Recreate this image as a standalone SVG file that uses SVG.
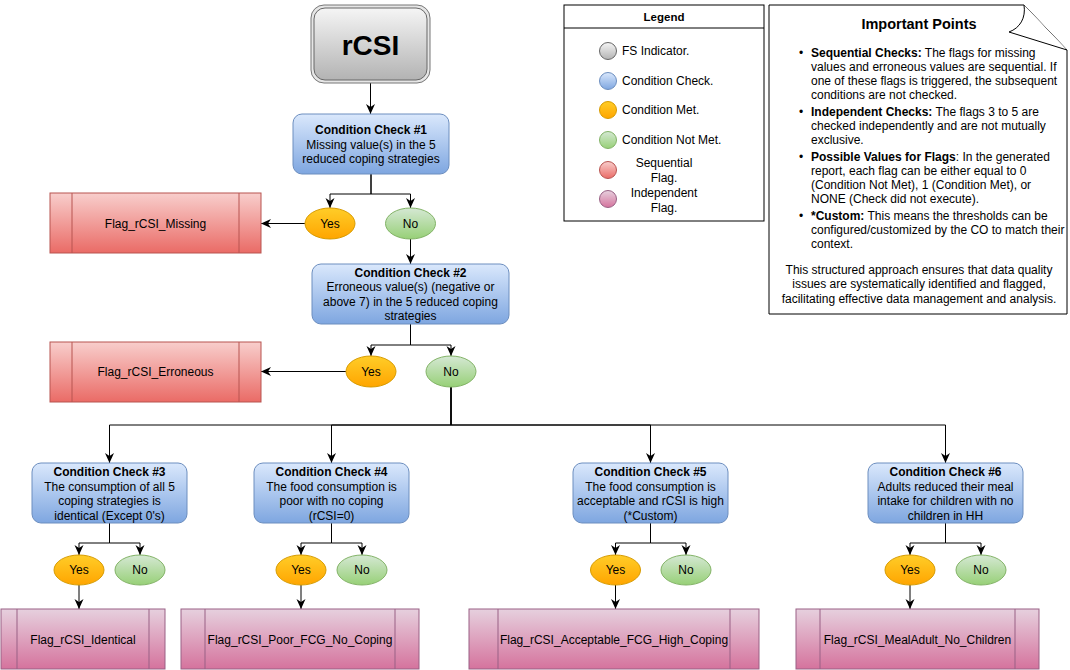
<svg xmlns="http://www.w3.org/2000/svg" width="1070" height="670" viewBox="0 0 1070 670">
<defs>
<linearGradient id="gGray" x1="0" y1="0" x2="0" y2="1"><stop offset="0" stop-color="#f5f5f5"/><stop offset="1" stop-color="#b3b3b3"/></linearGradient>
<linearGradient id="gBlue" x1="0" y1="0" x2="0" y2="1"><stop offset="0" stop-color="#dae8fc"/><stop offset="1" stop-color="#7ea6e0"/></linearGradient>
<linearGradient id="gYes" x1="0" y1="0" x2="0" y2="1"><stop offset="0" stop-color="#ffcd28"/><stop offset="1" stop-color="#ffa500"/></linearGradient>
<linearGradient id="gNo" x1="0" y1="0" x2="0" y2="1"><stop offset="0" stop-color="#d5e8d4"/><stop offset="1" stop-color="#97d077"/></linearGradient>
<linearGradient id="gRed" x1="0" y1="0" x2="0" y2="1"><stop offset="0" stop-color="#f8cecc"/><stop offset="1" stop-color="#ea6b66"/></linearGradient>
<linearGradient id="gPink" x1="0" y1="0" x2="0" y2="1"><stop offset="0" stop-color="#e6d0de"/><stop offset="1" stop-color="#d5739d"/></linearGradient>
<marker id="arr" markerUnits="userSpaceOnUse" viewBox="0 0 10 10" markerWidth="10" markerHeight="10" refX="10" refY="5" orient="auto">
<path d="M0,0.5 L10,5 L0,9.5 L3,5 z" fill="#000"/>
</marker>
</defs>
<style>
text{font-family:"Liberation Sans",Arial,sans-serif;font-size:12px;fill:#000}
.c{text-anchor:middle}
.b{font-weight:bold}
.chk{fill:url(#gBlue);stroke:#6c8ebf;stroke-width:1}
.yes{fill:url(#gYes);stroke:#d79b00;stroke-width:1}
.no{fill:url(#gNo);stroke:#82b366;stroke-width:1}
.seq{fill:url(#gRed);stroke:#b85450;stroke-width:1}
.ind{fill:url(#gPink);stroke:#996185;stroke-width:1}
.inl{fill:none;stroke-width:1}
.e{fill:none;stroke:#000;stroke-width:1;marker-end:url(#arr)}
</style>
<rect width="1070" height="670" fill="#fff"/>

<g id="connectors">
<path class="e" d="M370.5,83 V114"/>
<path class="e" d="M371,174 V194 H330 V208"/>
<path class="e" d="M371,174 V194 H410.5 V208"/>
<path class="e" d="M305,223.5 H261"/>
<path class="e" d="M410.5,239 V264"/>
<path class="e" d="M410.5,324 V345 H371 V356"/>
<path class="e" d="M410.5,324 V345 H451 V356"/>
<path class="e" d="M346,371.5 H261"/>
<path class="e" d="M451,387 V425 H109.5 V463"/>
<path class="e" d="M451,387 V425 H331.5 V463"/>
<path class="e" d="M451,387 V425 H650.5 V463"/>
<path class="e" d="M451,387 V425 H945.5 V463"/>
<path class="e" d="M109.5,523 V543 H79 V555"/>
<path class="e" d="M109.5,523 V543 H140 V555"/>
<path class="e" d="M331.5,523 V543 H301 V555"/>
<path class="e" d="M331.5,523 V543 H362 V555"/>
<path class="e" d="M650.5,523 V543 H615.5 V555"/>
<path class="e" d="M650.5,523 V543 H686 V555"/>
<path class="e" d="M945.5,523 V543 H910 V555"/>
<path class="e" d="M945.5,523 V543 H981 V555"/>
<path class="e" d="M79,585 V609"/>
<path class="e" d="M301,585 V609"/>
<path class="e" d="M615.5,585 V609"/>
<path class="e" d="M910,585 V609"/>
</g>

<g id="rcsi">
<rect x="311" y="5" width="119" height="78" rx="13" fill="#e6e6e6" stroke="#777"/>
<rect x="314" y="8" width="113" height="72" rx="11" fill="url(#gGray)" stroke="#666"/>
<text x="370.5" y="55" class="c b" style="font-size:28px">rCSI</text>
</g>

<g id="check1">
<rect class="chk" x="293" y="114" width="156" height="60" rx="9"/>
<text class="c" x="371" y="134"><tspan class="b">Condition Check #1</tspan><tspan x="371" dy="14.5">Missing value(s) in the 5</tspan><tspan x="371" dy="14.5">reduced coping strategies</tspan></text>
</g>
<g id="yes1"><ellipse class="yes" cx="330" cy="223.5" rx="25" ry="15.5"/><text class="c" x="330" y="227.5">Yes</text></g>
<g id="no1"><ellipse class="no" cx="410.5" cy="223.5" rx="25" ry="15.5"/><text class="c" x="410.5" y="227.5">No</text></g>
<g id="flag_missing">
<rect class="seq" x="50" y="193" width="211" height="60"/>
<path class="inl" stroke="#b85450" d="M72,193 V253 M239,193 V253"/>
<text class="c" x="155.5" y="227.5">Flag_rCSI_Missing</text>
</g>

<g id="check2">
<rect class="chk" x="312" y="264" width="197" height="60" rx="9"/>
<text class="c" x="410.5" y="276.5"><tspan class="b">Condition Check #2</tspan><tspan x="410.5" dy="14.5">Erroneous value(s) (negative or</tspan><tspan x="410.5" dy="14.5">above 7) in the 5 reduced coping</tspan><tspan x="410.5" dy="14.5">strategies</tspan></text>
</g>
<g id="yes2"><ellipse class="yes" cx="371" cy="371.5" rx="25" ry="15.5"/><text class="c" x="371" y="375.5">Yes</text></g>
<g id="no2"><ellipse class="no" cx="451" cy="371.5" rx="25" ry="15.5"/><text class="c" x="451" y="375.5">No</text></g>
<g id="flag_erroneous">
<rect class="seq" x="50" y="342" width="211" height="60"/>
<path class="inl" stroke="#b85450" d="M72,342 V402 M239,342 V402"/>
<text class="c" x="155.5" y="376">Flag_rCSI_Erroneous</text>
</g>

<g id="check3">
<rect class="chk" x="32" y="463" width="155" height="60" rx="9"/>
<text class="c" x="109.5" y="476"><tspan class="b">Condition Check #3</tspan><tspan x="109.5" dy="14.5">The consumption of all 5</tspan><tspan x="109.5" dy="14.5">coping strategies is</tspan><tspan x="109.5" dy="14.5">identical (Except 0's)</tspan></text>
</g>
<g id="yes3"><ellipse class="yes" cx="79" cy="570" rx="25" ry="15"/><text class="c" x="79" y="574">Yes</text></g>
<g id="no3"><ellipse class="no" cx="140" cy="570" rx="25" ry="15"/><text class="c" x="140" y="574">No</text></g>
<g id="flag_identical">
<rect class="ind" x="1" y="609" width="164" height="60"/>
<path class="inl" stroke="#996185" d="M17,609 V669 M149,609 V669"/>
<text class="c" x="83" y="644">Flag_rCSI_Identical</text>
</g>

<g id="check4">
<rect class="chk" x="254" y="463" width="155" height="60" rx="9"/>
<text class="c" x="331.5" y="476"><tspan class="b">Condition Check #4</tspan><tspan x="331.5" dy="14.5">The food consumption is</tspan><tspan x="331.5" dy="14.5">poor with no coping</tspan><tspan x="331.5" dy="14.5">(rCSI=0)</tspan></text>
</g>
<g id="yes4"><ellipse class="yes" cx="301" cy="570" rx="25" ry="15"/><text class="c" x="301" y="574">Yes</text></g>
<g id="no4"><ellipse class="no" cx="362" cy="570" rx="25" ry="15"/><text class="c" x="362" y="574">No</text></g>
<g id="flag_poor">
<rect class="ind" x="181" y="609" width="238" height="60"/>
<path class="inl" stroke="#996185" d="M205,609 V669 M395,609 V669"/>
<text class="c" x="300" y="644">Flag_rCSI_Poor_FCG_No_Coping</text>
</g>

<g id="check5">
<rect class="chk" x="573" y="463" width="155" height="60" rx="9"/>
<text class="c" x="650.5" y="476"><tspan class="b">Condition Check #5</tspan><tspan x="650.5" dy="14.5">The food consumption is</tspan><tspan x="650.5" dy="14.5">acceptable and rCSI is high</tspan><tspan x="650.5" dy="14.5">(*Custom)</tspan></text>
</g>
<g id="yes5"><ellipse class="yes" cx="615.5" cy="570" rx="25" ry="15"/><text class="c" x="615.5" y="574">Yes</text></g>
<g id="no5"><ellipse class="no" cx="686" cy="570" rx="25" ry="15"/><text class="c" x="686" y="574">No</text></g>
<g id="flag_acceptable">
<rect class="ind" x="469" y="609" width="290" height="60"/>
<path class="inl" stroke="#996185" d="M498,609 V669 M730,609 V669"/>
<text class="c" x="614" y="644">Flag_rCSI_Acceptable_FCG_High_Coping</text>
</g>

<g id="check6">
<rect class="chk" x="868" y="463" width="155" height="60" rx="9"/>
<text class="c" x="945.5" y="476"><tspan class="b">Condition Check #6</tspan><tspan x="945.5" dy="14.5">Adults reduced their meal</tspan><tspan x="945.5" dy="14.5">intake for children with no</tspan><tspan x="945.5" dy="14.5">children in HH</tspan></text>
</g>
<g id="yes6"><ellipse class="yes" cx="910" cy="570" rx="25" ry="15"/><text class="c" x="910" y="574">Yes</text></g>
<g id="no6"><ellipse class="no" cx="981" cy="570" rx="25" ry="15"/><text class="c" x="981" y="574">No</text></g>
<g id="flag_mealadult">
<rect class="ind" x="796" y="609" width="243" height="60"/>
<path class="inl" stroke="#996185" d="M820,609 V669 M1015,609 V669"/>
<text class="c" x="917.5" y="644">Flag_rCSI_MealAdult_No_Children</text>
</g>

<g id="legend">
<rect x="564" y="5" width="200" height="216" fill="#fff" stroke="#000"/>
<line x1="564" y1="28" x2="764" y2="28" stroke="#000"/>
<text class="c b" x="664" y="21" style="font-size:11.5px">Legend</text>
<circle cx="608" cy="51" r="8.5" fill="url(#gGray)" stroke="#666"/>
<text x="622" y="55">FS Indicator.</text>
<circle cx="608" cy="81" r="8.5" fill="url(#gBlue)" stroke="#6c8ebf"/>
<text x="622" y="85">Condition Check.</text>
<circle cx="608" cy="110" r="8.5" fill="url(#gYes)" stroke="#d79b00"/>
<text x="622" y="114">Condition Met.</text>
<circle cx="608" cy="140" r="8.5" fill="url(#gNo)" stroke="#82b366"/>
<text x="622" y="144">Condition Not Met.</text>
<circle cx="608" cy="170" r="8.5" fill="url(#gRed)" stroke="#b85450"/>
<text class="c" x="664" y="167">Sequential<tspan x="664" dy="15">Flag.</tspan></text>
<circle cx="608" cy="199" r="8.5" fill="url(#gPink)" stroke="#996185"/>
<text class="c" x="664" y="197">Independent<tspan x="664" dy="15">Flag.</tspan></text>
</g>

<g id="important_points">
<path d="M769,5 H1024 L1067,50 V314 H769 Z" fill="#fff" stroke="#000"/>
<path d="M1024,5 C1026,18 1020,28 1009,32 L1067,50" fill="#fff" stroke="#000"/>
<text class="c b" x="919" y="29" style="font-size:14.5px">Important Points</text>
<text x="799" y="57">•</text>
<text x="811" y="57"><tspan class="b">Sequential Checks:</tspan> The flags for missing</text>
<text x="811" y="71">values and erroneous values are sequential. If</text>
<text x="811" y="85">one of these flags is triggered, the subsequent</text>
<text x="811" y="99">conditions are not checked.</text>
<text x="799" y="116">•</text>
<text x="811" y="116"><tspan class="b">Independent Checks:</tspan> The flags 3 to 5 are</text>
<text x="811" y="130">checked independently and are not mutually</text>
<text x="811" y="144">exclusive.</text>
<text x="799" y="161">•</text>
<text x="811" y="161"><tspan class="b">Possible Values for Flags</tspan>: In the generated</text>
<text x="811" y="175">report, each flag can be either equal to 0</text>
<text x="811" y="189">(Condition Not Met), 1 (Condition Met), or</text>
<text x="811" y="203">NONE (Check did not execute).</text>
<text x="799" y="220">•</text>
<text x="811" y="220"><tspan class="b">*Custom:</tspan> This means the thresholds can be</text>
<text x="811" y="234">configured/customized by the CO to match their</text>
<text x="811" y="248">context.</text>
<text class="c" x="919" y="274">This structured approach ensures that data quality</text>
<text class="c" x="919" y="288">issues are systematically identified and flagged,</text>
<text class="c" x="919" y="303">facilitating effective data management and analysis.</text>
</g>
</svg>
